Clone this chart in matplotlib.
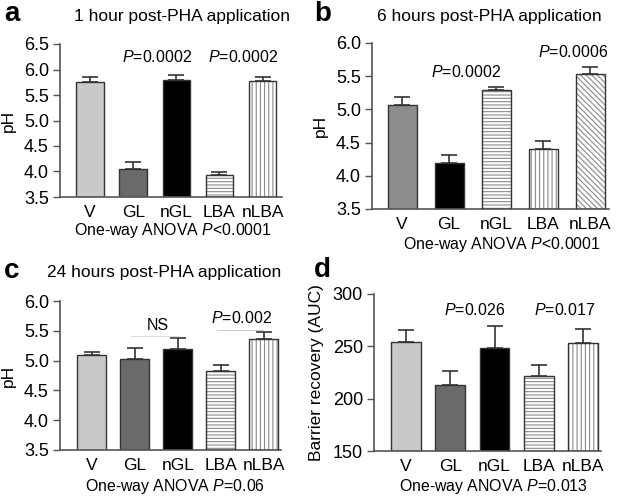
import matplotlib
matplotlib.use("Agg")
import matplotlib.pyplot as plt
import numpy as np

plt.rcParams['font.family'] = ['Liberation Sans', 'DejaVu Sans']
plt.rcParams['mathtext.fontset'] = 'custom'
plt.rcParams['mathtext.it'] = 'Liberation Sans:italic'
plt.rcParams['mathtext.rm'] = 'Liberation Sans'
plt.rcParams['hatch.linewidth'] = 0.8

categories = ["V", "GL", "nGL", "LBA", "nLBA"]

# Panel a: 1 hour
a_vals = [5.75, 4.04, 5.80, 3.93, 5.77]
a_err = [0.10, 0.14, 0.09, 0.06, 0.09]
# Panel b: 6 hours
b_vals = [5.07, 4.19, 5.29, 4.40, 5.53]
b_err = [0.12, 0.12, 0.05, 0.13, 0.11]
# Panel c: 24 hours
c_vals = [5.10, 5.03, 5.19, 4.83, 5.37]
c_err = [0.04, 0.18, 0.19, 0.09, 0.11]
# Panel d: barrier recovery
d_vals = [254, 213, 248, 222, 253]
d_err = [12, 13, 21, 10, 14]

W, H = 624, 500
fig = plt.figure(figsize=(6.24, 5.0), dpi=100)

def px_axes(left, top, right, bottom):
    return fig.add_axes([left / W, 1 - bottom / H, (right - left) / W, (bottom - top) / H])

# styles: (facecolor, hatch)
style_a = [("#c9c9c9", None), ("#6a6a6a", None), ("#000000", None), ("white", "-----"), ("white", "||||")]
style_b = [("#8c8c8c", None), ("#000000", None), ("white", "-----"), ("white", "||||"), ("white", "\\\\\\\\\\\\")]
style_c = style_a
style_d = style_a

def draw(ax, vals, errs, styles, ylim, yticks, xlim, width, ytickfmt):
    x = np.arange(len(vals))
    for i, (v, e, (fc, h)) in enumerate(zip(vals, errs, styles)):
        base = ylim[0]
        if h is None:
            ax.bar(x[i], v - base, bottom=base, width=width, color=fc,
                   edgecolor="#333333", linewidth=1.0, zorder=2)
        else:
            ax.bar(x[i], v - base, bottom=base, width=width, color=fc,
                   edgecolor="#8a8a8a", hatch=h, linewidth=0, zorder=2)
            ax.bar(x[i], v - base, bottom=base, width=width, color="none",
                   edgecolor="#333333", linewidth=1.0, zorder=3)
        ax.errorbar(x[i], v, yerr=[[0], [e]], fmt="none", ecolor="#333333",
                    elinewidth=1.2, capsize=6, capthick=1.2, zorder=1)
    ax.set_ylim(*ylim)
    ax.set_xlim(*xlim)
    ax.set_yticks(yticks)
    ax.set_yticklabels([ytickfmt.format(t) for t in yticks], fontsize=13)
    ax.set_xticks(x)
    ax.set_xticklabels(categories, fontsize=12.5)
    ax.tick_params(axis="x", length=0, pad=6)
    ax.tick_params(axis="y", length=5, width=1, color="#555555", pad=3)
    for s in ["top", "right"]:
        ax.spines[s].set_visible(False)
    for s in ["left", "bottom"]:
        ax.spines[s].set_color("#555555")
        ax.spines[s].set_linewidth(1.2)

PFS = 11.5

# Panel a
axa = px_axes(60, 44, 282, 197)
draw(axa, a_vals, a_err, style_a, (3.5, 6.5), [3.5, 4.0, 4.5, 5.0, 5.5, 6.0, 6.5], (-0.7, 4.45), 0.64, "{:.1f}")
axa.set_ylabel("pH", fontsize=12.5, labelpad=6)
axa.text(1.55, 6.25, "$P$=0.0002", ha="center", va="center", fontsize=PFS)
axa.text(3.55, 6.25, "$P$=0.0002", ha="center", va="center", fontsize=PFS)

# Panel b
axb = px_axes(372, 43, 609, 209)
draw(axb, b_vals, b_err, style_b, (3.5, 6.0), [3.5, 4.0, 4.5, 5.0, 5.5, 6.0], (-0.64, 4.4), 0.62, "{:.1f}")
axb.set_ylabel("pH", fontsize=12.5, labelpad=6)
axb.text(1.35, 5.57, "$P$=0.0002", ha="center", va="center", fontsize=PFS)
axb.text(3.64, 5.86, "$P$=0.0006", ha="center", va="center", fontsize=PFS)

# Panel c
axc = px_axes(60, 301, 281, 450)
draw(axc, c_vals, c_err, style_c, (3.5, 6.0), [3.5, 4.0, 4.5, 5.0, 5.5, 6.0], (-0.74, 4.4), 0.67, "{:.1f}")
axc.set_ylabel("pH", fontsize=12.5, labelpad=6)
axc.plot([0.9, 2.0], [5.41, 5.41], color="#dddddd", lw=0.8, zorder=1)
axc.text(1.53, 5.59, "NS", ha="center", va="center", fontsize=PFS)
axc.plot([2.9, 3.98], [5.51, 5.51], color="#cccccc", lw=0.8, zorder=1)
axc.text(3.49, 5.71, "$P$=0.002", ha="center", va="center", fontsize=PFS)

# Panel d
axd = px_axes(374, 294, 601, 451)
draw(axd, d_vals, d_err, style_d, (150, 300), [150, 200, 250, 300], (-0.72, 4.4), 0.67, "{:d}")
axd.set_ylabel("Barrier recovery (AUC)", fontsize=12.5, labelpad=6)
axd.text(1.55, 285, "$P$=0.026", ha="center", va="center", fontsize=PFS)
axd.text(3.59, 285, "$P$=0.017", ha="center", va="center", fontsize=PFS)

def ftext(x, y, s, **kw):
    fig.text(x / W, 1 - y / H, s, ha=kw.pop("ha", "center"), va=kw.pop("va", "center"), **kw)

# Titles and panel letters
ftext(182, 16, "1 hour post-PHA application", fontsize=12.5)
ftext(489, 16, "6 hours post-PHA application", fontsize=12.5)
ftext(164, 273, "24 hours post-PHA application", fontsize=12.5)
ftext(4, 14, "a", ha="left", fontsize=20, fontweight="bold")
ftext(314, 14, "b", ha="left", fontsize=20, fontweight="bold")
ftext(4, 271, "c", ha="left", fontsize=20, fontweight="bold")
ftext(314, 270, "d", ha="left", fontsize=20, fontweight="bold")

# ANOVA texts
AFS = 11.4
ftext(173, 230, "One-way ANOVA $P$<0.0001", fontsize=AFS)
ftext(502, 245, "One-way ANOVA $P$<0.0001", fontsize=AFS)
ftext(175, 487, "One-way ANOVA $P$=0.06", fontsize=AFS)
ftext(493, 487, "One-way ANOVA $P$=0.013", fontsize=AFS)

fig.savefig("out.png", dpi=100)
